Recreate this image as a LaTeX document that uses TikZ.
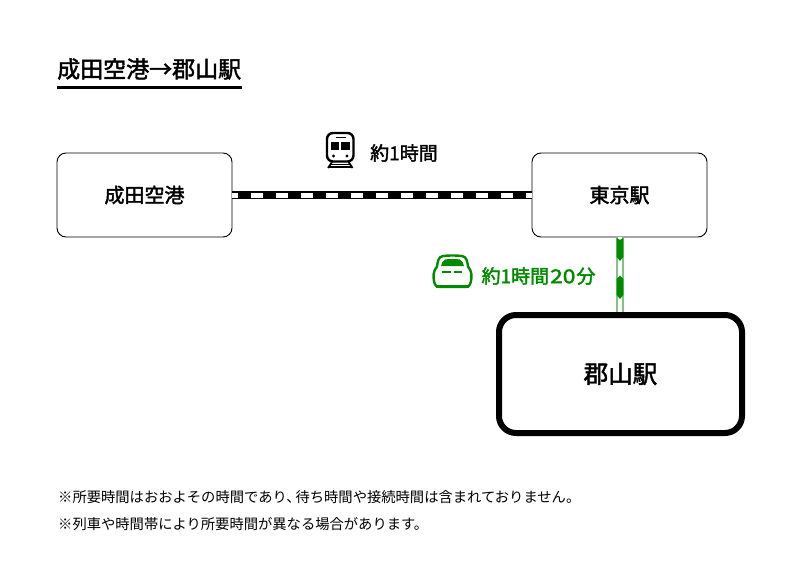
\documentclass[tikz,border=0pt]{standalone}
\usepackage{xcolor}
\usepackage{fontspec}
\newfontfamily\cjk{Noto Sans CJK JP}
\newfontfamily\cjkmid{Noto Sans CJK JP}[FakeBold=2]
\definecolor{railgreen}{HTML}{008A00}
\definecolor{raillight}{HTML}{80C480}
\tikzset{
    stationbox/.style={draw=black, rectangle, rounded corners=9pt, line width=0.9pt, minimum width=175pt, minimum height=84pt, outer sep=0pt, font=\cjkmid\fontsize{20}{24}\selectfont},
    mainbox/.style={draw=black, rectangle, rounded corners=17pt, line width=6pt, minimum width=243pt, minimum height=118pt, outer sep=3pt, font=\cjkmid\fontsize{24.5}{28}\selectfont},
    timelabel/.style={inner sep=0pt, font=\cjkmid\fontsize{19}{22}\selectfont},
    notelabel/.style={anchor=west, inner sep=0pt, font=\cjk\fontsize{14.3}{17}\selectfont}
}
\begin{document}
\begin{tikzpicture}[x=1pt, y=-1pt]
        \useasboundingbox (0,0) rectangle (800,575);

        % Draw the title
        \node[anchor=west, inner sep=0pt, font=\cjkmid\fontsize{23}{26}\selectfont] (title) at (57,69) {成田空港→郡山駅};
        \fill (57,86) rectangle (241.5,89.5);

        % Draw the stations
        \node[stationbox] (narita) at (144.5,195) {成田空港};
        \node[stationbox] (tokyo) at (619.5,195) {東京駅};
        \node[mainbox] (koriyama) at (620.5,374) {郡山駅};

        % Draw the black rail
        \draw[line width=8.5pt, black] (narita.east) -- (tokyo.west);
        \draw[line width=5pt, white, dash pattern=on 12.5pt off 12.5pt, dash phase=6.5pt] (narita.east) -- (tokyo.west);

        % Draw the green rail
        \draw[line width=2pt, raillight, double=white, double distance=4pt] ([xshift=0.5pt,yshift=0.5pt]tokyo.south) -- ([xshift=-0.5pt]koriyama.north);
        \fill[railgreen] (616.7,238) -- (620,240) -- (623.3,238) -- (623.3,257) -- (620,261) -- (616.7,257) -- cycle;
        \fill[railgreen] (616.7,279) -- (620,275.5) -- (623.3,279) -- (623.3,295) -- (620,299) -- (616.7,295) -- cycle;

        % Draw the train icon
        \draw[line width=2.4pt, rounded corners=6pt] (327,133) rectangle (353.5,161.5);
        \draw[line width=1.6pt] (336,137.5) -- (346,137.5);
        \fill (331,141.5) rectangle (339.3,149.5);
        \fill (341,141.5) rectangle (349.5,149.5);
        \fill (333.5,156) circle (1.6);
        \fill (347,156) circle (1.6);
        \draw[line width=1.8pt] (332,162) -- (328,168) (348.5,162) -- (352.5,168);
        \draw[line width=1.6pt] (329,167) -- (351.5,167);
        \draw[line width=1.4pt] (331,164.5) -- (349.5,164.5);

        % Draw the shinkansen icon
        \draw[railgreen, line width=2.4pt] (443,256) .. controls (449,255.3) and (456,255.3) .. (462,256)
            .. controls (467,256.5) and (467.5,263) .. (468,266.5)
            .. controls (472,271) and (472,277) .. (470.8,282)
            .. controls (470,286) and (468,287) .. (464,287)
            -- (441,287)
            .. controls (437,287) and (435,286) .. (434.2,282)
            .. controls (433,277) and (433,271) .. (437,266.5)
            .. controls (437.5,263) and (438,256.5) .. (443,256) -- cycle;
        \fill[railgreen] (445,259.5) .. controls (450,258.8) and (455,258.8) .. (460,259.5)
            .. controls (462.5,260.5) and (463.5,264) .. (464,266) -- (441,266)
            .. controls (441.5,264) and (442.5,260.5) .. (445,259.5) -- cycle;
        \draw[railgreen, line width=2.2pt] (442,272) -- (450.5,272) (453.5,272) -- (462,272);
        \fill[railgreen] (436,284.5) rectangle (469,288.2);

        % Draw the times
        \node[timelabel] (localtime) at (404,153) {約1時間};
        \node[timelabel, text=railgreen] (expresstime) at (538.5,276) {約1時間\kern1pt\scalebox{1.2}[1]{20}\kern1pt分};

        % Draw the notes
        \node[notelabel] (note1) at (58,497) {※所要時間はおおよその時間であり、\kern-5pt 待ち時間や接続時間は含まれておりません。};
        \node[notelabel] (note2) at (58,524) {※列車や時間帯により所要時間が異なる場合があります。};
\end{tikzpicture}
\end{document}
